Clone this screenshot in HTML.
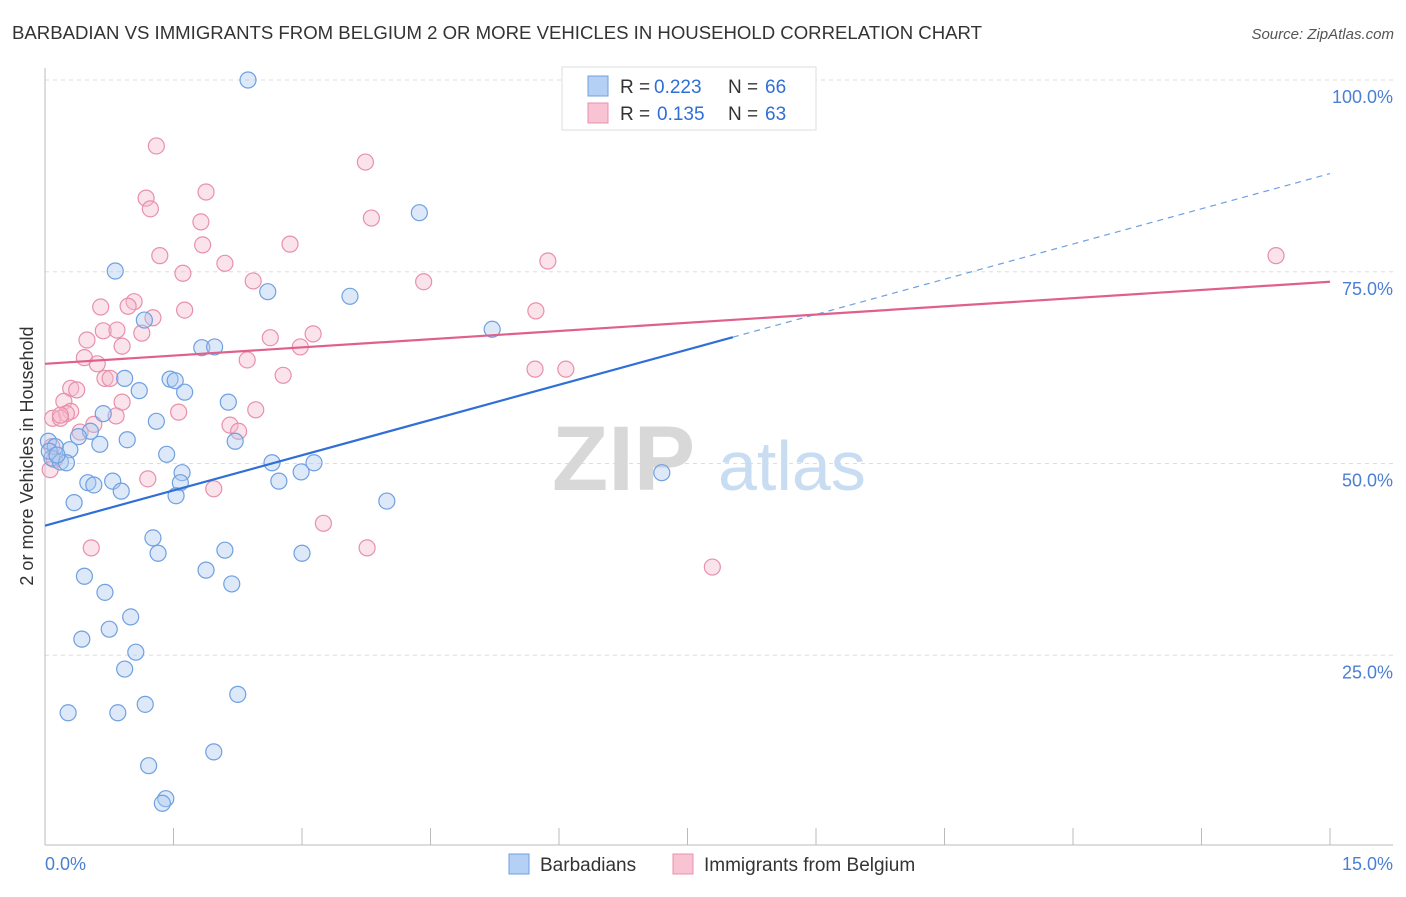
<!DOCTYPE html>
<html><head><meta charset="utf-8"><style>
body{margin:0;background:#fff;font-family:"Liberation Sans",sans-serif}
svg text{font-family:"Liberation Sans",sans-serif}
</style></head><body>
<svg id="chart" width="1406" height="892" viewBox="0 0 1406 892" xmlns="http://www.w3.org/2000/svg">
<text x="12" y="39" font-size="18" fill="#333" textLength="970" lengthAdjust="spacingAndGlyphs">BARBADIAN VS IMMIGRANTS FROM BELGIUM 2 OR MORE VEHICLES IN HOUSEHOLD CORRELATION CHART</text>
<text x="1394" y="39" font-size="15" fill="#555" text-anchor="end" font-style="italic">Source: ZipAtlas.com</text>
<g id="grid"></g>
<line x1="45" y1="845" x2="1393" y2="845" stroke="#bbb"/>
<line x1="45" y1="68" x2="45" y2="845" stroke="#bbb"/>
<g id="xticks"></g>
<g id="ylabels"></g>
<text x="45" y="870" font-size="18" fill="#4a7fd4">0.0%</text>
<text x="1393" y="870" font-size="18" fill="#4a7fd4" text-anchor="end">15.0%</text>
<text transform="translate(33,456) rotate(-90)" font-size="18" fill="#333" text-anchor="middle">2 or more Vehicles in Household</text>
<text x="552" y="490" font-size="92" fill="#d8d8d8" font-family="Liberation Serif" font-weight="bold">ZIP</text>
<text x="718" y="490" font-size="70" fill="#c8dcf2">atlas</text>
<g id="pts"></g>
<g id="lines"></g>
<g>
<rect x="562" y="67" width="254" height="63" fill="#fff" stroke="#ddd"/>
<rect x="588" y="76" width="20" height="20" fill="#b4d0f4" stroke="#6fa0e0"/>
<text x="620" y="93" font-size="19" fill="#333">R =</text>
<text x="654" y="93" font-size="19" fill="#2f6fd6">0.223</text>
<text x="728" y="93" font-size="19" fill="#333">N =</text>
<text x="765" y="93" font-size="19" fill="#2f6fd6">66</text>
<rect x="588" y="103" width="20" height="20" fill="#f8c4d4" stroke="#e890aa"/>
<text x="620" y="120" font-size="19" fill="#333">R =</text>
<text x="657" y="120" font-size="19" fill="#2f6fd6">0.135</text>
<text x="728" y="120" font-size="19" fill="#333">N =</text>
<text x="765" y="120" font-size="19" fill="#2f6fd6">63</text>
</g>
<g>
<rect x="509" y="854" width="20" height="20" fill="#b4d0f4" stroke="#6fa0e0"/>
<text x="540" y="871" font-size="19" fill="#333">Barbadians</text>
<rect x="673" y="854" width="20" height="20" fill="#f8c4d4" stroke="#e890aa"/>
<text x="704" y="871" font-size="19" fill="#333">Immigrants from Belgium</text>
</g>
</svg>
<script>
const yTicks=[25,50,75,100];
const xTicks=[0,1.5,3,4.5,6,7.5,9,10.5,12,13.5,15];
const blueX=[2.37,4.37,0.82,2.60,3.56,5.22,1.16,1.83,1.98,0.93,1.46,1.52,1.10,1.63,2.14,0.68,1.30,0.53,0.39,0.96,2.22,0.64,0.29,0.04,0.12,0.08,0.18,0.25,1.42,2.65,3.14,1.60,2.99,0.79,0.50,0.57,1.58,0.89,1.53,2.73,0.34,3.99,7.20,1.26,1.32,2.10,3.00,0.46,1.88,2.18,0.70,1.00,0.75,0.43,1.06,0.93,2.25,0.27,0.85,1.17,1.97,1.21,1.41,1.37,0.05,0.14];
const blueY=[100.0,82.7,75.1,72.4,71.8,67.5,68.7,65.1,65.2,61.1,61.0,60.8,59.5,59.3,58.0,56.5,55.5,54.2,53.5,53.1,52.9,52.5,51.8,52.9,52.2,50.7,50.2,50.1,51.2,50.1,50.1,48.8,48.9,47.7,47.5,47.2,47.5,46.4,45.8,47.7,44.9,45.1,48.8,40.3,38.3,38.7,38.3,35.3,36.1,34.3,33.2,30.0,28.4,27.1,25.4,23.2,19.9,17.5,17.5,18.6,12.4,10.6,6.3,5.7,51.6,51.1];
const pinkX=[1.30,3.74,1.88,1.18,1.23,3.81,1.82,1.84,2.86,1.34,2.10,1.61,2.43,4.42,5.87,14.37,0.65,1.04,0.97,1.63,1.26,5.73,0.68,0.84,1.13,3.13,2.63,2.98,0.49,0.90,0.46,2.36,0.61,0.70,0.76,2.78,5.72,6.08,0.30,0.37,0.22,0.90,0.30,1.56,2.46,0.83,0.25,0.09,0.18,0.57,2.16,2.26,0.41,0.08,0.11,0.06,1.20,1.97,3.25,3.76,0.54,7.79,0.18];
const pinkY=[91.4,89.3,85.4,84.6,83.2,82.0,81.5,78.5,78.6,77.1,76.1,74.8,73.8,73.7,76.4,77.1,70.4,71.1,70.5,70.0,69.0,69.9,67.3,67.4,67.0,66.9,66.4,65.2,66.1,65.3,63.8,63.5,63.0,61.1,61.1,61.5,62.3,62.3,59.8,59.6,58.1,58.0,56.8,56.7,57.0,56.2,56.5,55.9,55.9,55.1,55.0,54.2,54.1,52.2,50.5,49.2,48.0,46.7,42.2,39.0,39.0,36.5,56.3];
const blueFit=[41.9,3.06];
const pinkFit=[63.0,0.713];
const NS="http://www.w3.org/2000/svg";
const sx=v=>45+v*1285/15;
const sy=v=>847-v*7.67;
function mk(tag,attrs,parent){const e=document.createElementNS(NS,tag);for(const k in attrs)e.setAttribute(k,attrs[k]);parent.appendChild(e);return e;}
const grid=document.getElementById('grid'),yl=document.getElementById('ylabels'),xt=document.getElementById('xticks');
yTicks.forEach(t=>{
 const l=mk('line',{x1:45,x2:1393,y1:sy(t),y2:sy(t),stroke:'#ddd','stroke-dasharray':'4,4'},grid);
 
 
 const tx=mk('text',{x:1393,y:sy(t)+23,'font-size':18,fill:'#4a7fd4','text-anchor':'end'},yl);
 tx.textContent=t.toFixed(1)+'%';
 
 
});
xTicks.slice(1).forEach(t=>{
 const l=mk('line',{x1:sx(t),x2:sx(t),y1:828,y2:845,stroke:'#bbb'},xt);
 
 
});
const pts=document.getElementById('pts');
function series(X,Y,fill,stroke,name){
 X.forEach((x,i)=>{
  const c=mk('circle',{cx:sx(x),cy:sy(Y[i]),r:8,fill:fill,'fill-opacity':0.4,stroke:stroke,'stroke-width':1.2},pts);
  
  
 });
}
series(pinkX,pinkY,'#f6b9cc','#e890aa','belgium');
series(blueX,blueY,'#a9c8f0','#6fa0e0','barbadian');
const lg=document.getElementById('lines');
const b1=mk('line',{x1:sx(0),y1:sy(blueFit[0]),x2:sx(8.03),y2:sy(blueFit[0]+blueFit[1]*8.03),stroke:'#2f6fd6','stroke-width':2.2},lg);


const b2=mk('line',{x1:sx(8.03),y1:sy(blueFit[0]+blueFit[1]*8.03),x2:sx(15),y2:sy(blueFit[0]+blueFit[1]*15),stroke:'#6fa0e0','stroke-width':1.2,'stroke-dasharray':'6,5'},lg);


const p1=mk('line',{x1:sx(0),y1:sy(pinkFit[0]),x2:sx(15),y2:sy(pinkFit[0]+pinkFit[1]*15),stroke:'#e0608a','stroke-width':2.2},lg);


</script>
</body></html>
